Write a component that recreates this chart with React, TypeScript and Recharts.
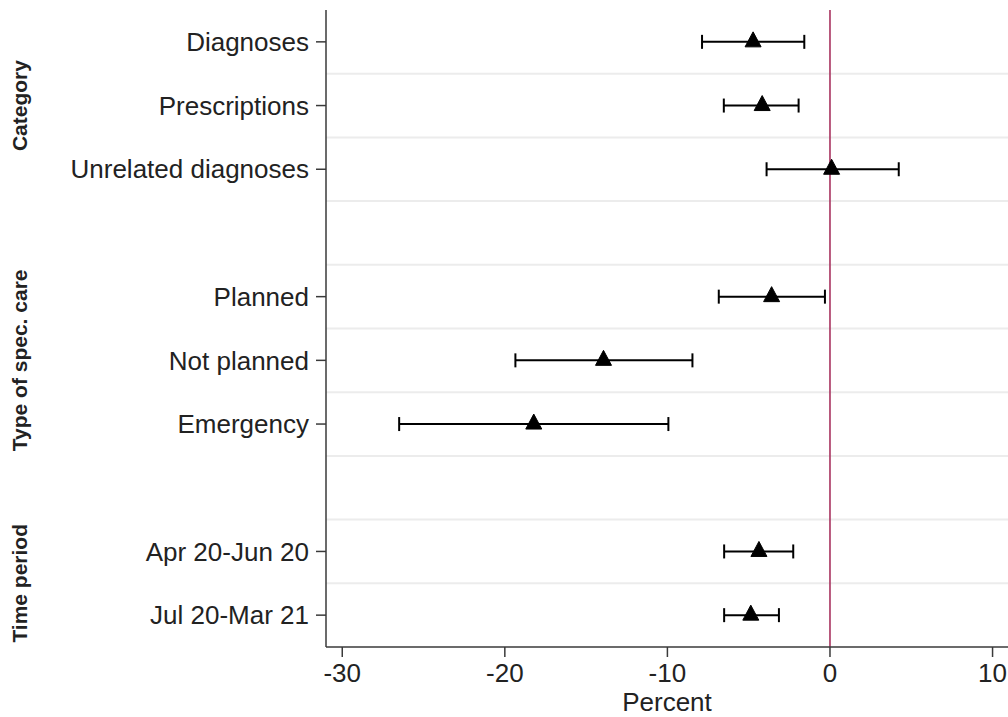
import React from 'react';
import {
  ScatterChart,
  Scatter,
  XAxis,
  YAxis,
  ErrorBar,
  ReferenceLine,
} from 'recharts';

// Estimated effects (percent) with 95% confidence bounds, grouped by panel
const groupNames = ['Category', 'Type of spec. care', 'Time period'];

const categoryItems = ['Diagnoses', 'Prescriptions', 'Unrelated diagnoses'];
const careTypeItems = ['Planned', 'Not planned', 'Emergency'];
const periodItems = ['Apr 20-Jun 20', 'Jul 20-Mar 21'];

const categoryEstimates = [-4.73, -4.17, 0.1];
const categoryLower = [-7.87, -6.53, -3.9];
const categoryUpper = [-1.58, -1.93, 4.23];

const careTypeEstimates = [-3.59, -13.93, -18.22];
const careTypeLower = [-6.84, -19.35, -26.5];
const careTypeUpper = [-0.31, -8.46, -9.94];

const periodEstimates = [-4.37, -4.87];
const periodLower = [-6.51, -6.51];
const periodUpper = [-2.26, -3.14];

const xTicks = [-30, -20, -10, 0, 10];
const xDomain = [-31, 10.95];

const groups = [
  { items: categoryItems, est: categoryEstimates, lo: categoryLower, hi: categoryUpper },
  { items: careTypeItems, est: careTypeEstimates, lo: careTypeLower, hi: careTypeUpper },
  { items: periodItems, est: periodEstimates, lo: periodLower, hi: periodUpper },
];

// Build row table: one row per item, with an empty spacer row between groups
type Row = { row: number; label: string; est: number; err: [number, number] };
const rows: Row[] = [];
const groupCenters: number[] = [];
let rowIndex = 0;
groups.forEach((g, gi) => {
  if (gi > 0) rowIndex += 1;
  const start = rowIndex + 1;
  g.items.forEach((label, i) => {
    rowIndex += 1;
    rows.push({
      row: rowIndex,
      label,
      est: g.est[i],
      err: [g.est[i] - g.lo[i], g.hi[i] - g.est[i]],
    });
  });
  groupCenters.push((start + rowIndex) / 2);
});
const rowCount = rowIndex;
const rowTicks = rows.map((r) => r.row);
const labelByRow: Record<number, string> = {};
rows.forEach((r) => (labelByRow[r.row] = r.label));
const groupByCenter: Record<string, string> = {};
groupCenters.forEach((c, i) => (groupByCenter[String(c)] = groupNames[i]));
const separators = Array.from({ length: rowCount - 1 }, (_, i) => i + 1.5);

const FONT = '"Liberation Sans", Arial, Helvetica, sans-serif';
const TEXT = '#222222';
const AXIS = '#3a3a3a';

const Triangle = (props: any) => {
  const { cx, cy } = props;
  if (cx == null || cy == null) return null;
  const pts = `${cx},${cy - 10} ${cx - 8},${cy + 5} ${cx + 8},${cy + 5}`;
  return <polygon points={pts} fill="#000" stroke="#000" strokeWidth={1} strokeLinejoin="round" />;
};

const GroupTick = (props: any) => {
  const { x, y, payload } = props;
  const name = groupByCenter[String(payload.value)];
  const bx = x - 33;
  return (
    <text
      x={bx}
      y={y}
      transform={`rotate(-90, ${bx}, ${y})`}
      textAnchor="middle"
      fontFamily={FONT}
      fontWeight="bold"
      fontSize={21}
      fill={TEXT}
    >
      {name}
    </text>
  );
};

const ROWS_AXIS = 'axisA';
const GROUPS_AXIS = 'axisB';

export default function App() {
  return (
    <div style={{ position: 'fixed', left: 0, top: 0, width: 1008, height: 717, background: '#fff', overflow: 'hidden' }}>
      <ScatterChart width={1008} height={717} margin={{ top: 10, right: 0, bottom: 0, left: 0 }}>
        <XAxis
          type="number"
          dataKey="est"
          domain={xDomain}
          ticks={xTicks}
          interval={0}
          allowDataOverflow
          height={70}
          tickSize={10}
          tickMargin={7}
          tick={{ fontFamily: FONT, fontSize: 26, fill: TEXT }}
          tickLine={{ stroke: AXIS, strokeWidth: 1.5 }}
          axisLine={{ stroke: AXIS, strokeWidth: 1.5 }}
          label={{ value: 'Percent', position: 'insideBottom', offset: 6, fontFamily: FONT, fontSize: 26, fill: TEXT }}
        />
        <YAxis
          yAxisId={ROWS_AXIS}
          type="number"
          dataKey="row"
          domain={[0.5, rowCount + 0.5]}
          reversed
          ticks={rowTicks}
          interval={0}
          allowDataOverflow
          width={266}
          tickSize={10}
          tickMargin={7}
          tickFormatter={(v: number) => labelByRow[v] ?? ''}
          tick={{ fontFamily: FONT, fontSize: 26, fill: TEXT }}
          tickLine={{ stroke: AXIS, strokeWidth: 1.5 }}
          axisLine={{ stroke: AXIS, strokeWidth: 1.5 }}
        />
        <YAxis
          yAxisId={GROUPS_AXIS}
          type="number"
          domain={[0.5, rowCount + 0.5]}
          reversed
          ticks={groupCenters}
          interval={0}
          allowDataOverflow
          width={60}
          tickSize={0}
          tickMargin={0}
          tickLine={false}
          axisLine={false}
          tick={<GroupTick />}
        />
        {separators.map((s) => (
          <ReferenceLine key={s} yAxisId={ROWS_AXIS} y={s} stroke="#ececec" strokeWidth={2} />
        ))}
        <ReferenceLine yAxisId={ROWS_AXIS} x={0} stroke="#a8325e" strokeWidth={1.6} />
        <Scatter
          yAxisId={ROWS_AXIS}
          data={rows}
          dataKey="est"
          shape={<Triangle />}
          isAnimationActive={false}
        >
          <ErrorBar dataKey="err" direction="x" width={7} stroke="#000" strokeWidth={2} isAnimationActive={false} />
        </Scatter>
      </ScatterChart>
    </div>
  );
}
